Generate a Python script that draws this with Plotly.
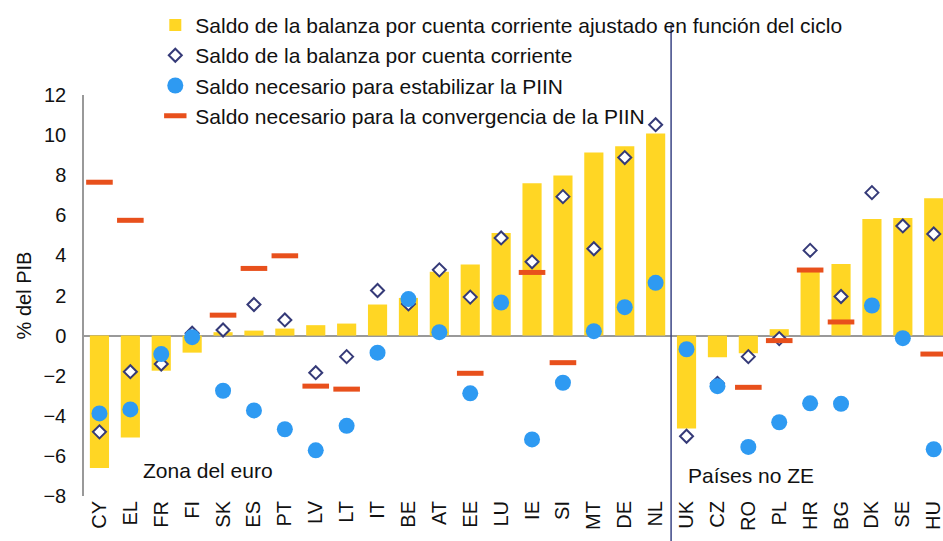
import plotly.graph_objects as go

categorias = ["CY","EL","FR","FI","SK","ES","PT","LV","LT","IT","BE","AT","EE","LU","IE","SI","MT","DE","NL",
              "UK","CZ","RO","PL","HR","BG","DK","SE","HU"]
ajustado = [-6.6,-5.08,-1.75,-0.85,0.17,0.25,0.35,0.52,0.6,1.55,1.88,3.18,3.55,5.12,7.6,7.98,9.13,9.45,10.08,
            -4.63,-1.08,-0.88,0.32,3.25,3.57,5.82,5.87,6.85]
corriente = [-4.8,-1.8,-1.42,0.12,0.28,1.55,0.78,-1.85,-1.05,2.25,1.58,3.28,1.92,4.87,3.68,6.93,4.33,8.88,10.52,
             -5.02,-2.38,-1.05,-0.15,4.25,1.95,7.13,5.47,5.07]
estabilizar = [-3.88,-3.68,-0.92,-0.08,-2.75,-3.73,-4.67,-5.72,-4.5,-0.85,1.82,0.17,-2.88,1.65,-5.18,-2.35,0.22,1.42,2.63,
               -0.68,-2.52,-5.55,-4.32,-3.38,-3.4,1.5,-0.13,-5.67]
convergencia = [7.65,5.75,None,None,1.02,3.35,3.98,-2.52,-2.67,None,None,None,-1.88,None,3.15,-1.35,None,None,None,
                None,None,-2.58,-0.25,3.27,0.68,None,None,-0.92]
nombres = ["Saldo de la balanza por cuenta corriente ajustado en función del ciclo",
           "Saldo de la balanza por cuenta corriente",
           "Saldo necesario para estabilizar la PIIN",
           "Saldo necesario para la convergencia de la PIIN"]
yticks = [-8,-6,-4,-2,0,2,4,6,8,10,12]

FONT = "Liberation Sans, Arial, sans-serif"

fig = go.Figure()
fig.add_trace(go.Bar(x=categorias, y=ajustado, name=nombres[0], marker=dict(color="#FFD624", line=dict(width=0)),
                     legendgroup="a"))
fig.add_trace(go.Scatter(x=categorias, y=corriente, name=nombres[1], mode="markers", legendgroup="b",
                         marker=dict(symbol="diamond", size=10, color="white", line=dict(color="#353A78", width=2))))
fig.add_trace(go.Scatter(x=categorias, y=estabilizar, name=nombres[2], mode="markers", legendgroup="c",
                         marker=dict(symbol="circle", size=16, color="#2E9AF2", line=dict(width=0))))
fig.add_trace(go.Scatter(x=categorias, y=convergencia, name=nombres[3], mode="markers", legendgroup="d",
                         marker=dict(symbol="line-ew", size=19, color="#E8501C", line=dict(color="#E8501C", width=5))))

# separator between euro area and non-euro countries
fig.add_shape(type="line", xref="x", yref="paper", x0=18.5, x1=18.5, y0=-0.2, y1=1.175,
              line=dict(color="#3B4585", width=1.5))

fig.add_annotation(x=0.0665, y=-6.75, xref="paper", yref="y", text="Zona del euro", showarrow=False,
                   xanchor="left", yanchor="middle", font=dict(size=21, color="#111", family=FONT))
fig.add_annotation(x=18.97, y=-7.0, xref="x", yref="y", text="Países no ZE", showarrow=False,
                   xanchor="left", yanchor="middle", font=dict(size=21, color="#111", family=FONT))

fig.update_layout(
    width=943, height=541,
    margin=dict(l=84, r=0, t=95, b=45, autoexpand=False),
    paper_bgcolor="white", plot_bgcolor="white",
    font=dict(family=FONT, size=20, color="#111"),
    bargap=0.38,
    showlegend=True,
    legend=dict(x=0.083, y=1.225, xanchor="left", yanchor="top", bgcolor="rgba(0,0,0,0)",
                font=dict(size=21, family=FONT, color="#111"), tracegroupgap=4,
                itemwidth=30, traceorder="normal"),
    xaxis=dict(type="category", range=[-0.5, 27.3], showline=False, showgrid=False, ticks="",
               tickangle=-90, tickfont=dict(size=20), automargin=False),
    yaxis=dict(range=[-8, 12], tickvals=yticks, showgrid=False, zeroline=True, zerolinecolor="#999999",
               zerolinewidth=1.5, showline=True, linecolor="#999999", linewidth=1.5, ticks="",
               tickfont=dict(size=20), automargin=False, ticklabelstandoff=12,
               title=dict(text="% del PIB", font=dict(size=20), standoff=6)),
)

fig.write_html("out.html", config={"displayModeBar": False},
               post_script="document.body.style.margin='0';document.body.style.overflow='hidden';")
